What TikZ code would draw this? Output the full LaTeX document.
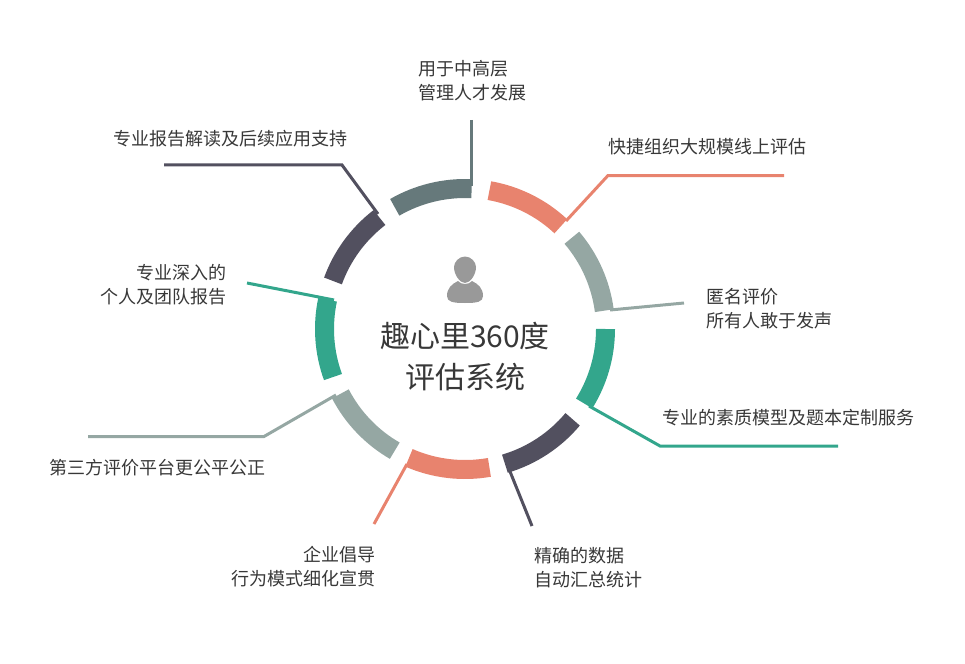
\documentclass[tikz,border=0pt]{standalone}
\usepackage{fontspec}
\usepackage{xcolor}
\setmainfont{Noto Sans CJK SC}
\usetikzlibrary{positioning,calc}
\definecolor{slategreen}{RGB}{102,121,123}
\definecolor{salmon}{RGB}{232,131,110}
\definecolor{sagegray}{RGB}{149,167,163}
\definecolor{teal}{RGB}{51,166,140}
\definecolor{inkgray}{RGB}{82,80,95}
\definecolor{textgray}{RGB}{56,56,56}
\definecolor{figgray}{RGB}{153,153,153}
\tikzset{
  ringseg/.style={line width=19pt},
  leader/.style={line width=3pt},
  lefttext/.style={anchor=west, align=left, text=textgray, font=\fontsize{18}{24}\selectfont, inner sep=0pt},
  righttext/.style={anchor=east, align=right, text=textgray, font=\fontsize{18}{24}\selectfont, inner sep=0pt},
  titletext/.style={align=center, text=textgray, font=\fontsize{30}{41}\selectfont, inner sep=0pt}
}

\begin{document}
\begin{tikzpicture}[x=1pt,y=1pt]
\useasboundingbox (0,0) rectangle (965,-663);
\coordinate (ctr) at (465,-329);

% ring
\draw[ringseg, slategreen] ($(ctr)+(87.3:140.5)$) arc (87.3:120:140.5);
\draw[ringseg, salmon] ($(ctr)+(80:140.5)$) arc (80:47:140.5);
\draw[ringseg, sagegray] ($(ctr)+(40.5:140.5)$) arc (40.5:7.5:140.5);
\draw[ringseg, teal] ($(ctr)+(0:140.5)$) arc (0:-32:140.5);
\draw[ringseg, inkgray] ($(ctr)+(-40:140.5)$) arc (-40:-73.5:140.5);
\draw[ringseg, salmon] ($(ctr)+(-80:140.5)$) arc (-80:-113.5:140.5);
\draw[ringseg, sagegray] ($(ctr)+(-120:140.5)$) arc (-120:-152.5:140.5);
\draw[ringseg, teal] ($(ctr)+(-160:140.5)$) arc (-160:-192:140.5);
\draw[ringseg, inkgray] ($(ctr)+(160:140.5)$) arc (160:127.5:140.5);

% leader end points
\coordinate (topa) at (471,-120);
\coordinate (topb) at (471,-186);
\coordinate (reda) at (784,-175.5);
\coordinate (redb) at (608,-175.5);
\coordinate (redc) at (566,-221);
\coordinate (graya) at (684,-303);
\coordinate (grayb) at (610,-310);
\coordinate (greena) at (838,-446);
\coordinate (greenb) at (660,-446);
\coordinate (greenc) at (589,-406);
\coordinate (darka) at (532,-526);
\coordinate (darkb) at (509,-469);
\coordinate (salma) at (374,-524);
\coordinate (salmb) at (407,-464);
\coordinate (sagea) at (88,-436.5);
\coordinate (sageb) at (264,-436.5);
\coordinate (sagec) at (336,-395);
\coordinate (teala) at (247,-283);
\coordinate (tealb) at (334,-300);
\coordinate (inka) at (164,-165);
\coordinate (inkb) at (342,-165);
\coordinate (inkc) at (378,-214);

\draw[leader, slategreen] (topa) -- (topb);
\draw[leader, salmon] (reda) -- (redb) -- (redc);
\draw[leader, sagegray] (graya) -- (grayb);
\draw[leader, teal] (greena) -- (greenb) -- (greenc);
\draw[leader, inkgray] (darka) -- (darkb);
\draw[leader, salmon] (salma) -- (salmb);
\draw[leader, sagegray] (sagea) -- (sageb) -- (sagec);
\draw[leader, teal] (teala) -- (tealb);
\draw[leader, inkgray] (inka) -- (inkb) -- (inkc);

% figure
\fill[figgray] (447,-296) .. controls (447,-288) and (452,-284) .. (458,-281) .. controls (461,-285) and (469,-285) .. (472,-281) .. controls (478,-284) and (483,-288) .. (483,-296) .. controls (483,-302) and (477,-303) .. (465,-303) .. controls (453,-303) and (447,-302) .. (447,-296) -- cycle;
\fill[figgray] (465,-256.5) .. controls (471,-256.5) and (476,-262) .. (476,-267) .. controls (476,-275) and (470,-283) .. (465,-283) .. controls (460,-283) and (454,-275) .. (454,-267) .. controls (454,-262) and (459,-256.5) .. (465,-256.5) -- cycle;

% text
\node[titletext] (title) at (465,-357) {趣心里360度\\评估系统};
\node[lefttext] (mgmt) at (418,-80.5) {用于中高层\\管理人才发展};
\node[lefttext] (fast) at (608,-146.5) {快捷组织大规模线上评估};
\node[lefttext] (anon) at (706,-309) {匿名评价\\所有人敢于发声};
\node[lefttext] (model) at (662,-417.5) {专业的素质模型及题本定制服务};
\node[lefttext] (data) at (534,-567.5) {精确的数据\\自动汇总统计};
\node[righttext] (lead) at (376,-567) {企业倡导\\行为模式细化宣贯};
\node[righttext] (fair) at (266,-467.5) {第三方评价平台更公平公正};
\node[righttext] (deep) at (227,-284.5) {专业深入的\\个人及团队报告};
\node[righttext] (report) at (348,-138.5) {专业报告解读及后续应用支持};
\end{tikzpicture}
\end{document}
